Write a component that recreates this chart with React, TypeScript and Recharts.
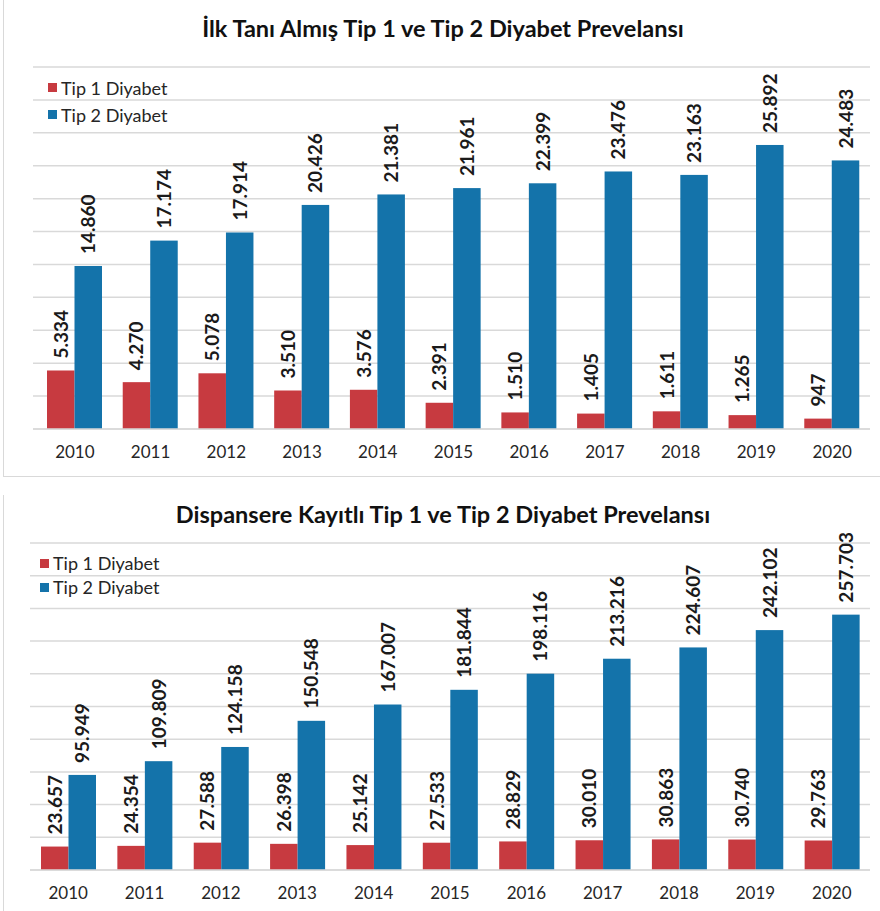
import React from 'react';
import { Bar, BarChart, CartesianGrid, Legend, XAxis, YAxis } from 'recharts';

const years = ['2010', '2011', '2012', '2013', '2014', '2015', '2016', '2017', '2018', '2019', '2020'];

// İlk tanı almış
const newTip1 = [5334, 4270, 5078, 3510, 3576, 2391, 1510, 1405, 1611, 1265, 947];
const newTip2 = [14860, 17174, 17914, 20426, 21381, 21961, 22399, 23476, 23163, 25892, 24483];

// Dispansere kayıtlı
const regTip1 = [23657, 24354, 27588, 26398, 25142, 27533, 28829, 30010, 30863, 30740, 29763];
const regTip2 = [95949, 109809, 124158, 150548, 167007, 181844, 198116, 213216, 224607, 242102, 257703];

const topTicks = [0, 3000, 6000, 9000, 12000, 15000, 18000, 21000, 24000, 27000, 30000, 33000];
const bottomTicks = [0, 33000, 66000, 99000, 132000, 165000, 198000, 231000, 264000, 297000, 330000];

const RED = '#C73A40';
const BLUE = '#1473AA';
const GRID = '#d9d9d9';
const FONT = 'Lato, "Open Sans", sans-serif';

const fmt = (v: number) => String(v).replace(/\B(?=(\d{3})+(?!\d))/g, '.');

const build = (t1: number[], t2: number[]) =>
  years.map((y, i) => ({ year: y, tip1: t1[i], tip2: t2[i] }));

// bar + vertical value label drawn together
const barWithLabel = (key: string, fill: string) => (props: any) => {
  const x = Number(props.x);
  const y = Number(props.y);
  const w = Number(props.width);
  const h = Number(props.height);
  const v = props.payload ? props.payload[key] : props.value;
  const cx = x + w / 2;
  const ty = y - 12;
  return (
    <g>
      <rect x={x} y={y} width={w} height={h} fill={fill} />
      <g transform={`matrix(0,-1,1,0,${cx},${ty})`}>
        <text
          x={0}
          y={7}
          textAnchor="start"
          fontFamily={FONT}
          fontWeight={700}
          fontSize={19}
          fill="#1a1a1a"
        >
          {fmt(v)}
        </text>
      </g>
    </g>
  );
};

function LegendBox({ left, top, gap }: { left: number; top: number; gap: number }) {
  const items = [
    { name: 'Tip 1 Diyabet', color: RED },
    { name: 'Tip 2 Diyabet', color: BLUE },
  ];
  return (
    <div
      style={{
        position: 'absolute',
        left,
        top,
        fontFamily: FONT,
        fontSize: 18,
        color: '#262626',
        whiteSpace: 'nowrap',
      }}
    >
      {items.map((it) => (
        <div key={it.name} style={{ display: 'flex', alignItems: 'center', height: gap }}>
          <span style={{ width: 9, height: 9, background: it.color, marginRight: 4, display: 'inline-block' }} />
          <span>{it.name}</span>
        </div>
      ))}
    </div>
  );
}

type PanelProps = {
  title: string;
  top: number;
  height: number;
  data: any[];
  ticks: number[];
  max: number;
  margin: { top: number; left: number; right: number };
  axisHeight: number;
  padLeft: number;
  titleY: number;
  legend: { left: number; top: number; gap: number };
  border: React.CSSProperties;
};

function Panel(p: PanelProps) {
  return (
    <div style={{ position: 'absolute', left: 0, top: p.top, width: 880, height: p.height }}>
      <div style={{ position: 'absolute', left: 3, top: 0, right: 0, bottom: 0, ...p.border }} />
      <div
        style={{
          position: 'absolute',
          left: 0,
          width: 886,
          top: p.titleY - 16,
          textAlign: 'center',
          fontFamily: FONT,
          fontWeight: 700,
          fontSize: 23.5,
          color: '#111',
          whiteSpace: 'nowrap',
        }}
      >
        {p.title}
      </div>
      <div style={{ position: 'absolute', left: 0, top: 0 }}>
        <BarChart
          width={880}
          height={p.height}
          data={p.data}
          margin={{ top: p.margin.top, left: p.margin.left, right: p.margin.right, bottom: 0 }}
          barGap={0}
          barSize={27.5}
        >
          <CartesianGrid vertical={false} stroke={GRID} strokeWidth={1.5} />
          <XAxis
            dataKey="year"
            height={p.axisHeight}
            padding={{ left: p.padLeft, right: 0 }}
            tickLine={false}
            tickSize={0}
            tickMargin={17}
            axisLine={{ stroke: GRID, strokeWidth: 1.5 }}
            tick={{ fontFamily: FONT, fontSize: 17, fill: '#262626' }}
            interval={0}
          />
          <YAxis hide domain={[0, p.max]} ticks={p.ticks} type="number" />
          <Legend
            layout="vertical"
            align="center"
            verticalAlign="middle"
            wrapperStyle={{ top: 0, left: 0, width: 0, height: 0, overflow: 'visible' }}
            content={() => <LegendBox {...p.legend} />}
          />
          <Bar
            dataKey="tip1"
            name="Tip 1 Diyabet"
            fill={RED}
            isAnimationActive={false}
            shape={barWithLabel('tip1', RED)}
          />
          <Bar
            dataKey="tip2"
            name="Tip 2 Diyabet"
            fill={BLUE}
            isAnimationActive={false}
            shape={barWithLabel('tip2', BLUE)}
          />
        </BarChart>
      </div>
    </div>
  );
}

export default function App() {
  return (
    <div style={{ position: 'absolute', left: 0, top: 0, width: 880, height: 911, background: '#fff', overflow: 'hidden' }}>
      <Panel
        title="İlk Tanı Almış Tip 1 ve Tip 2 Diyabet Prevelansı"
        top={0}
        height={477}
        data={build(newTip1, newTip2)}
        ticks={topTicks}
        max={33000}
        margin={{ top: 67, left: 33, right: 10 }}
        axisHeight={48}
        padLeft={4}
        titleY={30}
        legend={{ left: 48, top: 74, gap: 27 }}
        border={{ borderLeft: `1.5px solid ${GRID}`, borderBottom: `1.5px solid ${GRID}` }}
      />
      <Panel
        title="Dispansere Kayıtlı Tip 1 ve Tip 2 Diyabet Prevelansı"
        top={495}
        height={416}
        data={build(regTip1, regTip2)}
        ticks={bottomTicks}
        max={330000}
        margin={{ top: 48, left: 30, right: 10 }}
        axisHeight={41}
        padLeft={0}
        titleY={21}
        legend={{ left: 40, top: 56, gap: 24 }}
        border={{ borderLeft: `1.5px solid ${GRID}` }}
      />
    </div>
  );
}
